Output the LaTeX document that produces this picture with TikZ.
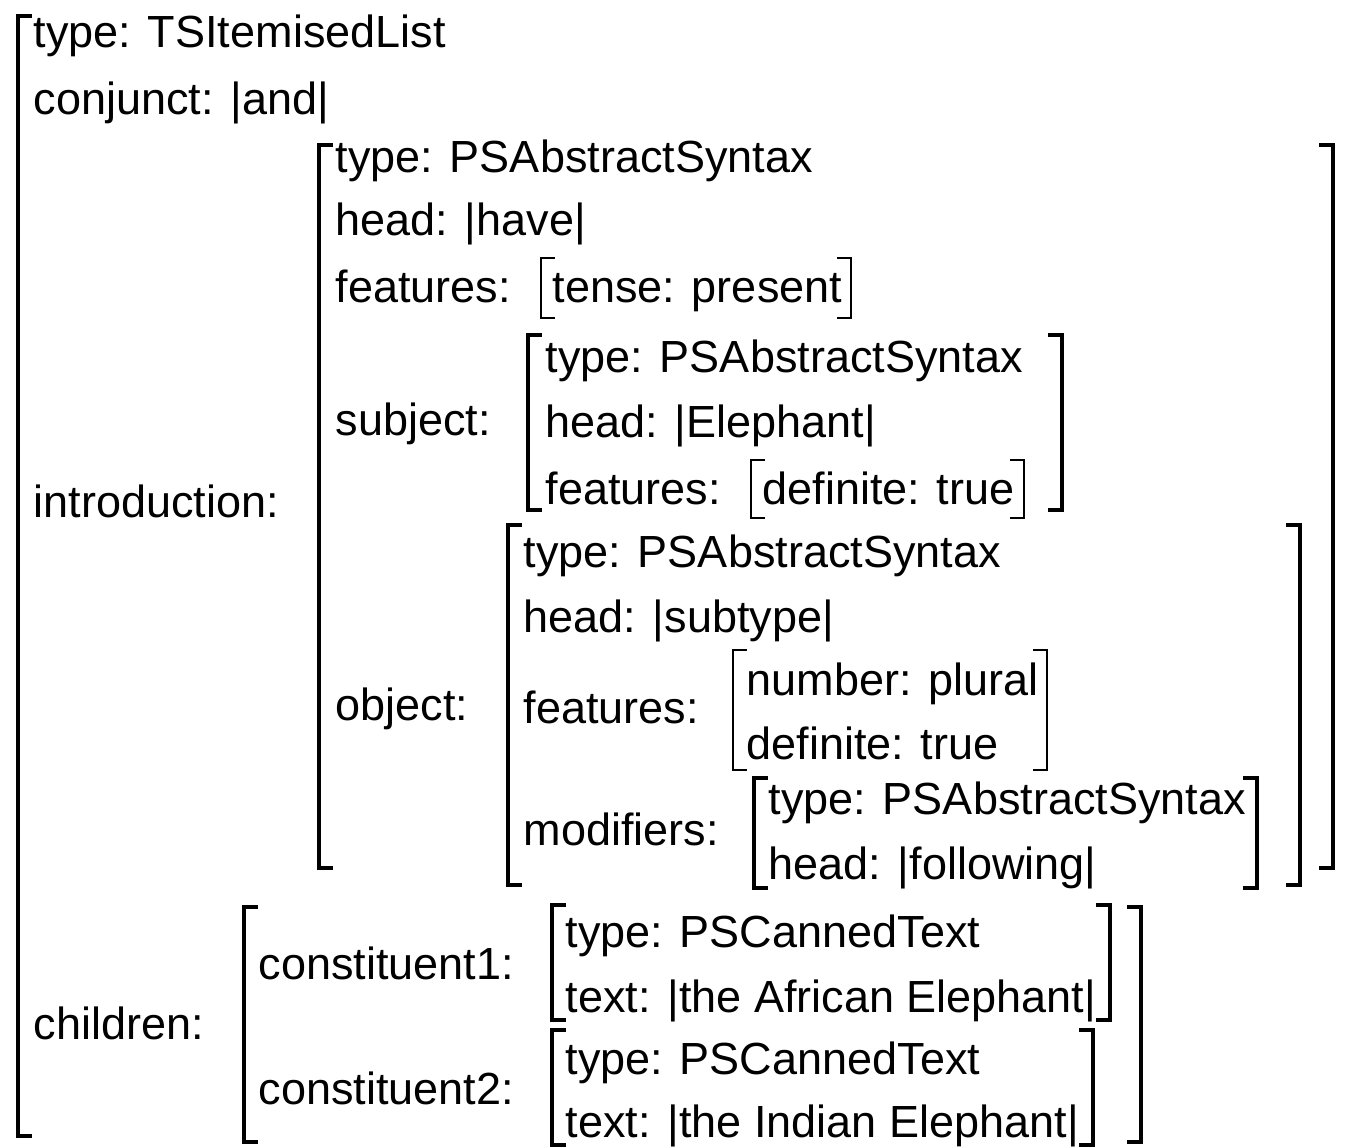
\documentclass[tikz,border=0pt]{standalone}
\usepackage{fontspec}
\setmainfont{Liberation Sans}
\newcommand\LBr[4][big]{\draw[#1] (#2+14,#3) -- (#2,#3) -- (#2,#4) -- (#2+14,#4);}
\newcommand\RBr[4][big]{\draw[#1] (#2-14,#3) -- (#2,#3) -- (#2,#4) -- (#2-14,#4);}
\begin{document}
\begin{tikzpicture}[x=0.01cm,y=-0.01cm,
  big/.style={line width=1.2pt},
  small/.style={line width=0.8pt},
  txt/.style={anchor=base west,inner sep=0pt,font=\fontsize{12.8}{15}\selectfont}]
\useasboundingbox (0,0) rectangle (1350,1147);
% outer
\LBr{18}{16}{1136}
\node[txt] (t1) at (33,47) {type: TSItemisedList};
\node[txt] (t2) at (33,114) {conjunct: |and|};
\node[txt] (intro) at (33,517) {introduction:};
\node[txt] (chil) at (33,1039) {children:};
% introduction AVM
\LBr{319}{145}{868}\RBr{1333}{145}{868}
\node[txt] (i1) at (335,172) {type: PSAbstractSyntax};
\node[txt] (i2) at (335,235) {head: |have|};
\node[txt] (i3) at (335,302) {features:};
\LBr[small]{541}{258}{318}\RBr[small]{851}{258}{318}
\node[txt] (i3v) at (552,302) {tense: present};
\node[txt] (subj) at (335,435) {subject:};
\LBr{528}{335}{510}\RBr{1062}{335}{510}
\node[txt] (s1) at (545,372) {type: PSAbstractSyntax};
\node[txt] (s2) at (545,437) {head: |Elephant|};
\node[txt] (s3) at (545,504) {features:};
\LBr[small]{751}{460}{518}\RBr[small]{1024}{460}{518}
\node[txt] (s3v) at (762,504) {definite: true};
\node[txt] (obj) at (335,720) {object:};
\LBr{508}{525}{885}\RBr{1300}{525}{885}
\node[txt] (o1) at (523,567) {type: PSAbstractSyntax};
\node[txt] (o2) at (523,632) {head: |subtype|};
\node[txt] (o3) at (523,723) {features:};
\LBr[small]{733}{650}{770}\RBr[small]{1047}{650}{770}
\node[txt] (o3a) at (746,695) {number: plural};
\node[txt] (o3b) at (746,759) {definite: true};
\node[txt] (o4) at (523,845) {modifiers:};
\LBr{754}{778}{888}\RBr{1257}{778}{888}
\node[txt] (m1) at (768,814) {type: PSAbstractSyntax};
\node[txt] (m2) at (768,879) {head: |following|};
% children AVM
\LBr{244}{907}{1142}\RBr{1141}{907}{1142}
\node[txt] (c1) at (258,979) {constituent1:};
\LBr{552}{905}{1020}\RBr{1110}{905}{1020}
\node[txt] (c1a) at (565,947) {type: PSCannedText};
\node[txt] (c1b) at (565,1012) {text: |the African Elephant|};
\node[txt] (c2) at (258,1104) {constituent2:};
\LBr{552}{1030}{1145}\RBr{1093}{1030}{1145}
\node[txt] (c2a) at (565,1074) {type: PSCannedText};
\node[txt] (c2b) at (565,1137) {text: |the Indian Elephant|};
\end{tikzpicture}
\end{document}
